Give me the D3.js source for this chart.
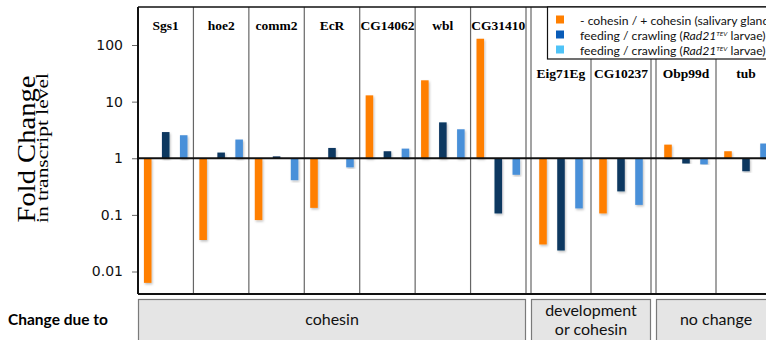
<!DOCTYPE html>
<meta charset="utf-8">
<title>Fold change</title>
<body style="margin:0;background:#fff">
<style>
body { font-family: Lato, "Open Sans", sans-serif; }
.gene { font-family: "Liberation Serif", serif; font-weight: bold; font-size: 13.5px; text-anchor: middle; }
.tick text { font-family: "DejaVu Sans", sans-serif; font-size: 14px; }
.box text { font-family: Lato, sans-serif; font-size: 16px; text-anchor: middle; fill: #111; }
.legend text { font-family: Lato, sans-serif; font-size: 12.2px; fill: #111; }
</style>
<svg id="chart" width="766" height="340"></svg>
<script src="https://d3js.org/d3.v7.min.js"></script>
<script>
var series = ["sg", "fc1", "fc2"];
var barColors = ["#ff7f00", "#0b3761", "#4a90d9"];
var legendColors = ["#ff7f00", "#0a5cb8", "#4fc3f7"];

var sections = ["cohesin", "development or cohesin", "no change"];
var cohesinGenes = ["Sgs1", "hoe2", "comm2", "EcR", "CG14062", "wbl", "CG31410"];
var devGenes = ["Eig71Eg", "CG10237"];
var noChangeGenes = ["Obp99d", "tub"];

// fold changes per gene: [salivary glands, feeding/crawling, feeding/crawling]
var sgValues  = [0.0063, 0.036, 0.081, 0.133, 12.9, 23.8, 129, 0.030, 0.106, 1.74, 1.33];
var fc1Values = [2.9, 1.26, 1.08, 1.52, 1.33, 4.3, 0.106, 0.0235, 0.26, 0.81, 0.59];
var fc2Values = [2.55, 2.14, 0.41, 0.69, 1.48, 3.25, 0.51, 0.13, 0.15, 0.78, 1.82];

var tickValues = [0.01, 0.1, 1, 10, 100];
var tickLabels = ["0.01", "0.1", "1", "10", "100"];

var svg = d3.select("#chart");
var top0 = 7, bottom0 = 294, left0 = 138, right0 = 776;

var y = d3.scaleLog().domain([0.01, 100]).range([271.5, 45]);

var allGenes = cohesinGenes.concat(devGenes, noChangeGenes);
var values = allGenes.map(function(g, i) { return [sgValues[i], fc1Values[i], fc2Values[i]]; });

var sectionDefs = [
  {name: sections[0], genes: cohesinGenes, x0: 138, x1: 526, labelY: 30, lineTop: 7},
  {name: sections[1], genes: devGenes, x0: 531, x1: 651, labelY: 78, lineTop: 59},
  {name: sections[2], genes: noChangeGenes, x0: 656, x1: 776, labelY: 78, lineTop: 59}
];

var inner = d3.scaleBand().domain(series).range([-27, 27]).paddingInner(0.58).paddingOuter(0.29);

var defs = svg.append("defs");
var f = defs.append("filter").attr("id", "shadow").attr("x", "-50%").attr("y", "-10%").attr("width", "200%").attr("height", "120%");
f.append("feDropShadow").attr("dx", 1).attr("dy", 1.5).attr("stdDeviation", 1).attr("flood-color", "#000").attr("flood-opacity", 0.25);

var bars = svg.append("g");
var frame = svg.append("g");

sectionDefs.forEach(function(s, si) {
  var x = d3.scaleBand().domain(s.genes).range([s.x0, s.x1]);
  s.genes.forEach(function(g) {
    var gi = allGenes.indexOf(g);
    var cx = x(g) + x.bandwidth() / 2;
    bars.selectAll(null).data(values[gi]).enter().append("rect")
      .attr("x", function(d, i) { return cx + inner(series[i]); })
      .attr("width", inner.bandwidth())
      .attr("y", function(d) { return Math.min(y(d), y(1)); })
      .attr("height", function(d) { return Math.abs(y(d) - y(1)); })
      .attr("fill", function(d, i) { return barColors[i]; })
      .attr("filter", "url(#shadow)");
    frame.append("text").attr("class", "gene")
      .attr("x", cx).attr("y", s.labelY).text(g);
  });
  // separators between genes
  s.genes.slice(1).forEach(function(g) {
    var top = (x(g) > 547) ? 59 : s.lineTop;
    frame.append("line").attr("x1", x(g)).attr("x2", x(g))
      .attr("y1", top).attr("y2", bottom0)
      .attr("stroke", "#666").attr("stroke-width", 1.2);
  });
  if (si > 0) {
    frame.append("line").attr("x1", s.x0).attr("x2", s.x0)
      .attr("y1", s.x0 > 547 ? 59 : top0).attr("y2", bottom0)
      .attr("stroke", "#666").attr("stroke-width", 1.2);
  }
  if (si < sectionDefs.length - 1) {
    frame.append("line").attr("x1", s.x1).attr("x2", s.x1)
      .attr("y1", s.x1 > 547 ? 59 : top0).attr("y2", bottom0)
      .attr("stroke", "#666").attr("stroke-width", 1.2);
  }
  // category box at the bottom
  var box = svg.append("g").attr("class", "box");
  box.append("rect").attr("x", s.x0 + 0.5).attr("y", 299.5)
    .attr("width", s.x1 - s.x0 - 1).attr("height", 60)
    .attr("fill", "#e5e5e5").attr("stroke", "#7a7a7a").attr("stroke-width", 1.2);
  var lines = s.name === "development or cohesin" ? ["development", "or cohesin"] : [s.name];
  var bx = si === 0 ? (s.x0 + s.x1) / 2 : s.x0 + 60;
  lines.forEach(function(t, li) {
    box.append("text").attr("x", bx)
      .attr("y", lines.length === 1 ? 325 : 316 + li * 19).text(t);
  });
});

// frame lines
frame.append("line").attr("x1", left0).attr("x2", right0).attr("y1", top0).attr("y2", top0)
  .attr("stroke", "#111").attr("stroke-width", 1.5);
frame.append("line").attr("x1", left0).attr("x2", right0).attr("y1", bottom0).attr("y2", bottom0)
  .attr("stroke", "#111").attr("stroke-width", 2);
frame.append("line").attr("x1", left0).attr("x2", right0).attr("y1", y(1)).attr("y2", y(1))
  .attr("stroke", "#111").attr("stroke-width", 2);
frame.append("line").attr("x1", left0).attr("x2", left0).attr("y1", top0).attr("y2", bottom0)
  .attr("stroke", "#111").attr("stroke-width", 2);

// y axis
var axis = d3.axisLeft(y).tickValues(tickValues)
  .tickFormat(function(d, i) { return tickLabels[i]; }).tickSize(5).tickPadding(9);
var ag = svg.append("g").attr("transform", "translate(" + (left0 - 1) + ",0)").call(axis);
ag.select(".domain").remove();
ag.selectAll(".tick line").attr("stroke", "#666");
ag.selectAll(".tick text").attr("fill", "#111");

// axis titles
svg.append("text").attr("transform", "translate(35,149) rotate(-90)")
  .attr("text-anchor", "middle").style("font-family", "Liberation Serif, serif")
  .style("font-size", "26px").attr("textLength", 147).attr("lengthAdjust", "spacingAndGlyphs")
  .text("Fold Change");
svg.append("text").attr("transform", "translate(48,148) rotate(-90)")
  .attr("text-anchor", "middle").style("font-family", "Liberation Serif, serif")
  .style("font-size", "16px").attr("textLength", 150).attr("lengthAdjust", "spacingAndGlyphs")
  .text("in transcript level");

svg.append("text").attr("x", 8).attr("y", 325)
  .style("font-weight", "bold").style("font-size", "15.5px").text("Change due to");

// legend
var lg = svg.append("g").attr("class", "legend");
lg.append("rect").attr("x", 547.5).attr("y", top0).attr("width", 240).attr("height", 52)
  .attr("fill", "#fff").attr("stroke", "#111").attr("stroke-width", 1.2);
var legendRows = [
  ["- cohesin / + cohesin (salivary glands)"],
  ["feeding / crawling (", "Rad21", "TEV", " larvae)"],
  ["feeding / crawling (", "Rad21", "TEV", " larvae)"]
];
legendRows.forEach(function(r, i) {
  var cy = 20 + i * 15;
  lg.append("rect").attr("x", 556).attr("y", cy - 4.5).attr("width", 8).attr("height", 8)
    .attr("fill", legendColors[i]);
  var t = lg.append("text").attr("x", 580).attr("y", cy + 4.5);
  t.append("tspan").text(r[0]);
  if (r.length > 1) {
    t.append("tspan").style("font-style", "italic").text(r[1]);
    t.append("tspan").attr("dy", -4).style("font-size", "6.5px").style("font-style", "italic").text(r[2]);
    t.append("tspan").attr("dy", 4).text(r[3]);
  }
});
</script>
</body>
